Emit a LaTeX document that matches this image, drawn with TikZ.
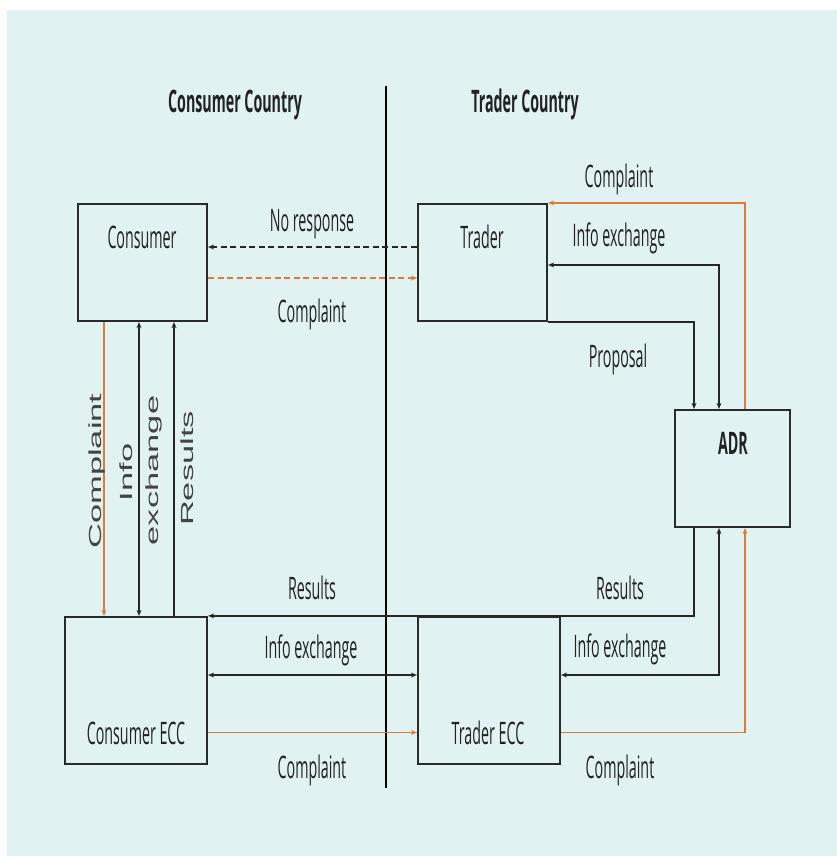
\documentclass[tikz,border=0pt]{standalone}
\usepackage{fontspec}
\usepackage{graphicx}
\setmainfont{Open Sans}
\newfontfamily\condf[FakeStretch=0.46]{Open Sans}
\newfontfamily\armf{Liberation Sans}
\usetikzlibrary{arrows.meta}
\definecolor{panel}{HTML}{E0F2F2}
\definecolor{ora}{HTML}{E07A36}
\definecolor{boxc}{HTML}{2B2B2B}
\definecolor{txtc}{HTML}{222222}
\tikzset{
  box/.style={draw=boxc, line width=2.2pt, rectangle, inner sep=0pt},
  lbl/.style={font=\condf\fontsize{31}{33}\selectfont, inner sep=0pt, anchor=base, text=txtc},
  ttl/.style={lbl, font=\condf\bfseries\fontsize{31}{33}\selectfont},
  vl/.style={font=\armf\fontsize{17.5}{20}\selectfont, inner sep=0pt, anchor=base, rotate=90, text=txtc!85},
  conn/.style={line width=1.6pt, draw=black!85},
  oc/.style={line width=1.6pt, draw=ora},
  tipe/.style={-{Stealth[length=6pt,width=5pt]}},
  tipb/.style={{Stealth[length=6pt,width=5pt]}-{Stealth[length=6pt,width=5pt]}},
  dsh/.style={dash pattern=on 6pt off 3.5pt}
}
\begin{document}
\begin{tikzpicture}[x=1pt,y=-1pt]
\useasboundingbox (0,0) rectangle (837,856);
\fill[panel] (7,10) rectangle (837,856);

% divider
\coordinate (divtop) at (386,86);
\coordinate (divbot) at (386,788);
\draw[line width=2pt, black] (divtop) -- (divbot);

% titles
\node[ttl] (tC) at (235,113) {Consumer Country};
\node[ttl] (tT) at (525,113) {Trader Country};

% boxes
\node[box, minimum width=129pt, minimum height=117pt] (cons) at (142.5,262.5) {};
\node[box, minimum width=129pt, minimum height=117pt] (trad) at (482.5,262.5) {};
\node[box, minimum width=115pt, minimum height=117pt] (adr) at (732.5,468.5) {};
\node[box, minimum width=142pt, minimum height=147pt] (cecc) at (136,690.5) {};
\node[box, minimum width=142pt, minimum height=147pt] (tecc) at (489,690.5) {};

% box texts
\node[lbl] (consT) at (142,248) {Consumer};
\node[lbl] (tradT) at (482,248) {Trader};
\node[ttl] (adrT) at (733,454) {ADR};
\node[lbl] (ceccT) at (136,744) {Consumer ECC};
\node[lbl] (teccT) at (488,744) {Trader ECC};

% helper levels
\coordinate (yNR) at (0,247);
\coordinate (yCD) at (0,278);
\coordinate (yIE1) at (0,265);
\coordinate (yIE2) at (0,675);
\coordinate (yC2) at (0,732.5);
\coordinate (xO) at (745,0);
\coordinate (xI) at (719,0);
\coordinate (xP) at (694,0);
\coordinate (xVC) at (104,0);
\coordinate (xVI) at (139,0);
\coordinate (xVR) at (174,0);

% connectors top
\draw[conn, dsh, tipe] (trad.west |- yNR) -- (cons.east |- yNR);
\draw[oc, dsh, tipe] (cons.east |- yCD) -- (trad.west |- yCD);
\draw[oc, tipe] (adr.north -| xO) |- (trad.north east);
\draw[conn, tipb] (trad.east |- yIE1) -| (adr.north -| xI);
\draw[conn, tipe] (trad.south east) -| (adr.north -| xP);

% connectors bottom
\draw[conn, tipe] (adr.south -| xP) |- (cecc.north east);
\draw[conn, tipb] (adr.south -| xI) |- (tecc.east |- yIE2);
\draw[oc, tipe] (tecc.east |- yC2) -| (adr.south -| xO);
\draw[conn, tipb] (cecc.east |- yIE2) -- (tecc.west |- yIE2);
\draw[oc, tipe] (cecc.east |- yC2) -- (tecc.west |- yC2);

% vertical connectors
\draw[oc, tipe] (cons.south -| xVC) -- (cecc.north -| xVC);
\draw[conn, tipb] (cons.south -| xVI) -- (cecc.north -| xVI);
\draw[conn, tipe] (cecc.north -| xVR) -- (cons.south -| xVR);

% labels
\node[lbl] (lNR) at (312,231) {No response};
\node[lbl] (lCD) at (312,322) {Complaint};
\node[lbl] (lCT) at (619,187) {Complaint};
\node[lbl] (lIT) at (619,246) {Info exchange};
\node[lbl] (lPr) at (618,367) {Proposal};
\node[lbl] (lRR) at (620,599) {Results};
\node[lbl] (lIR) at (620,657) {Info exchange};
\node[lbl] (lCR) at (620,778) {Complaint};
\node[lbl] (lRL) at (312,599) {Results};
\node[lbl] (lIL) at (311,658) {Info exchange};
\node[lbl] (lCL) at (312,778) {Complaint};

% vertical labels
\node[vl] (vC) at (101,471) {\scalebox{1.97}[1]{Complaint}};
\node[vl] (vI1) at (132,472.5) {\scalebox{1.97}[1]{Info}};
\node[vl] (vI2) at (158,470.5) {\scalebox{1.97}[1]{exchange}};
\node[vl] (vR) at (193,468.5) {\scalebox{1.97}[1]{Results}};
\end{tikzpicture}
\end{document}
